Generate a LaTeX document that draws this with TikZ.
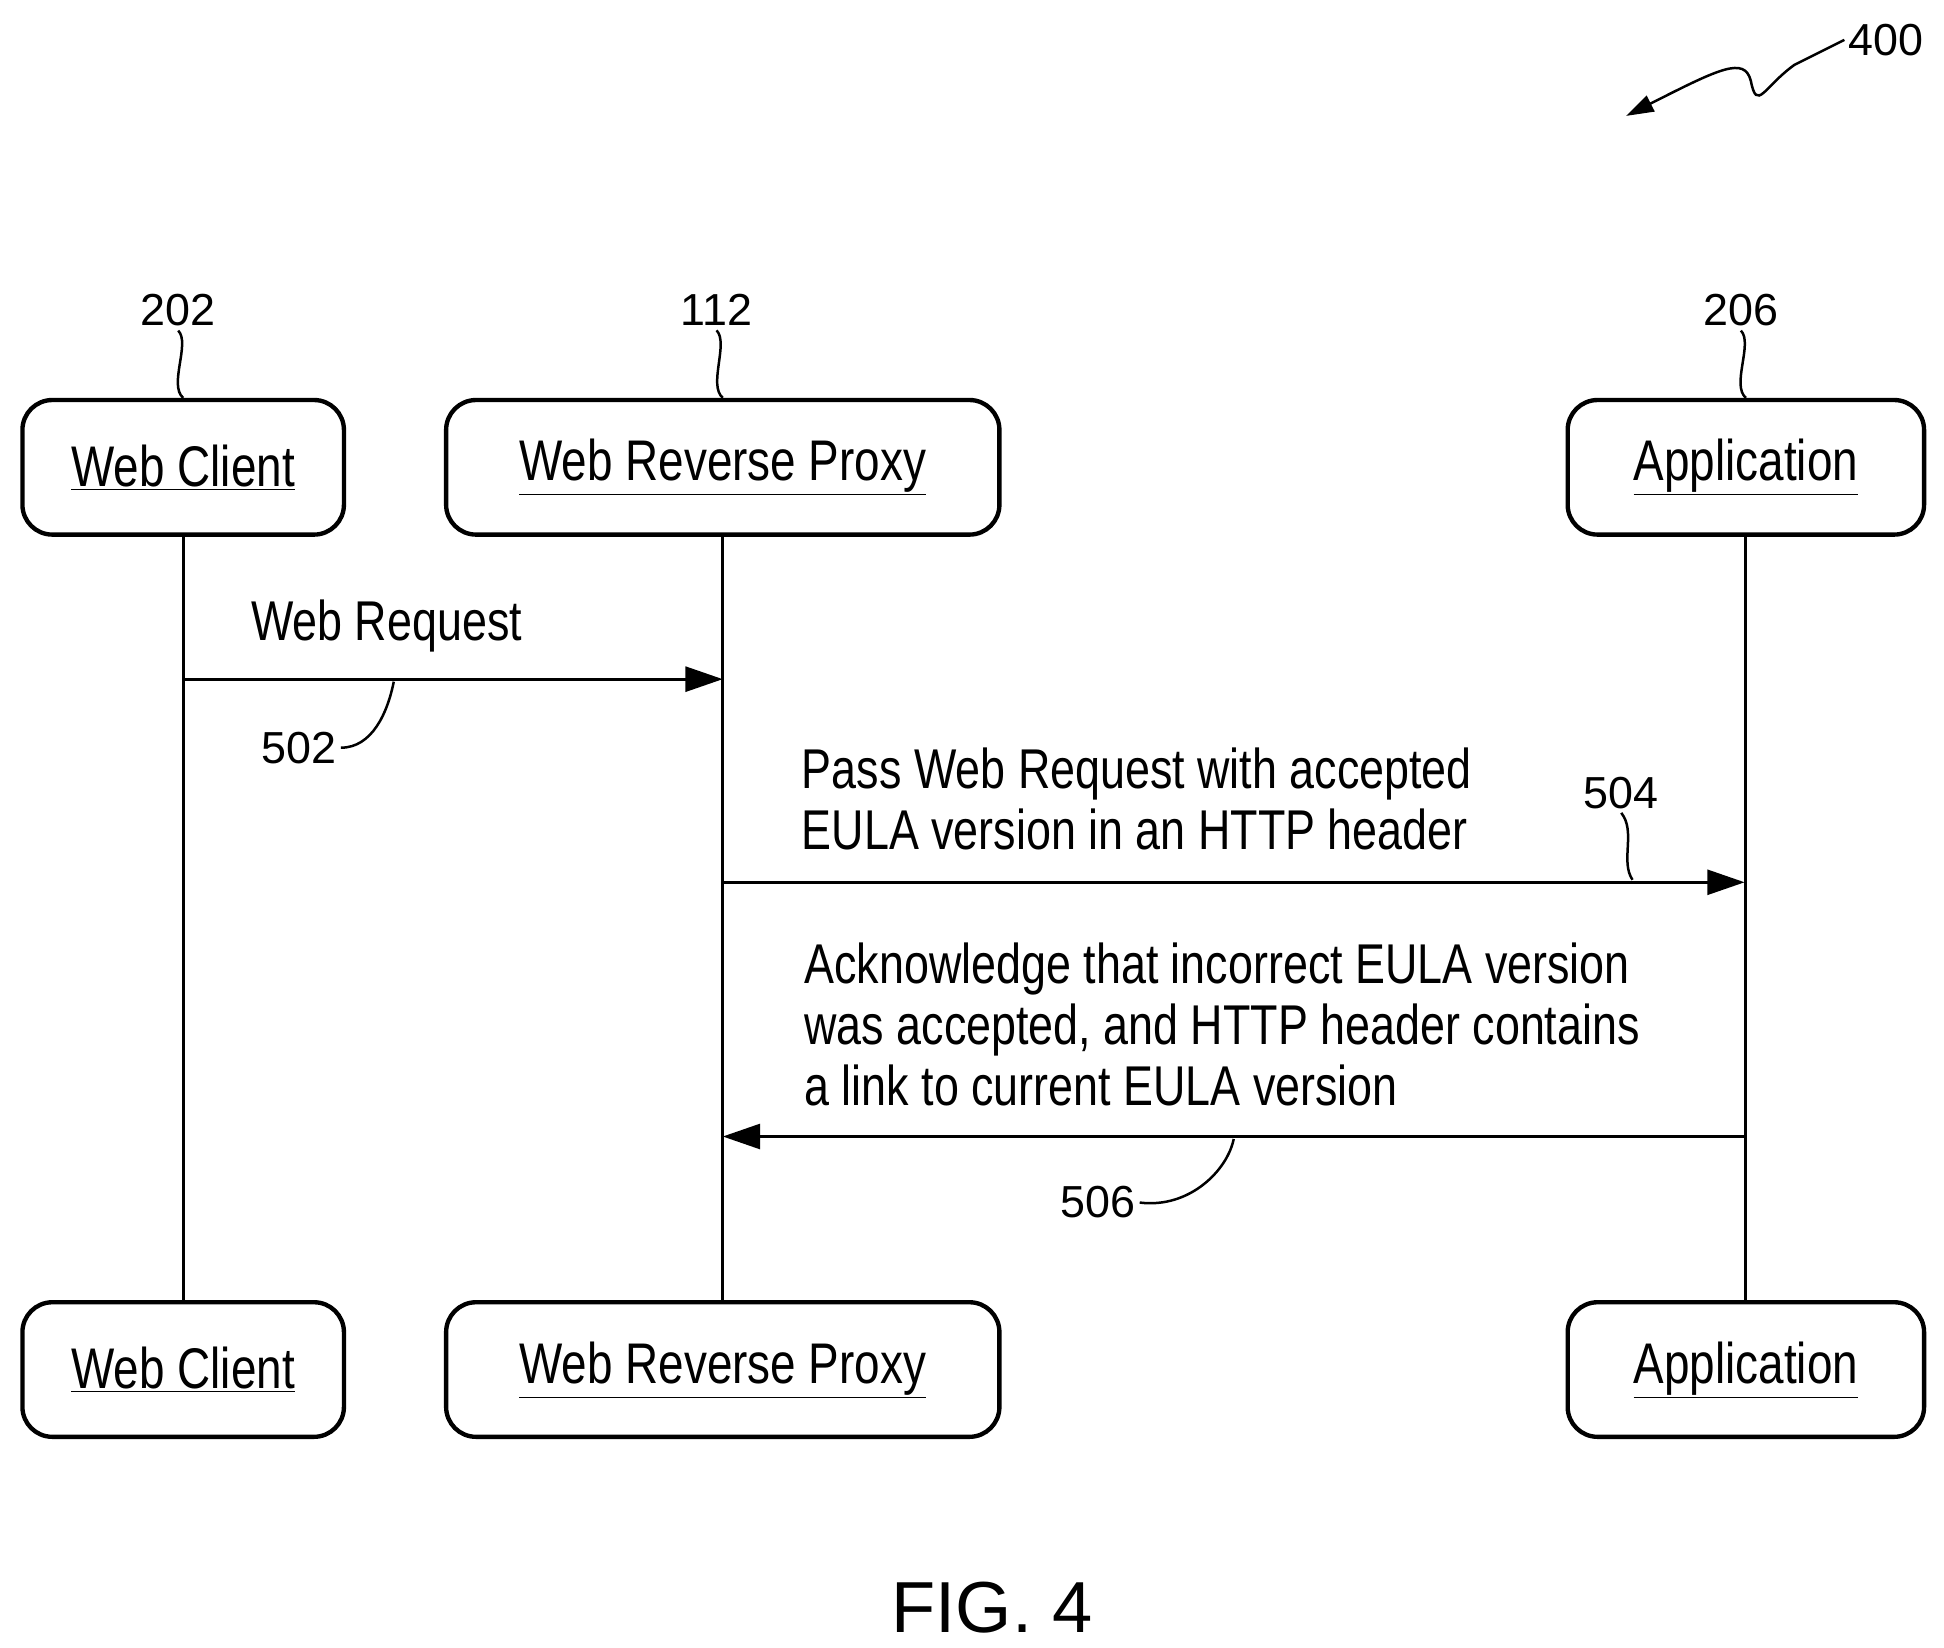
\documentclass[tikz,border=0pt]{standalone}
\usepackage{fontspec}
\setmainfont{Liberation Sans}
\newfontfamily\narrow[FakeStretch=0.8]{Liberation Sans}
\usetikzlibrary{arrows.meta}
\begin{document}
\begin{tikzpicture}[x=1pt,y=-1pt,
 box/.style={draw,line width=3.5pt,rounded corners=24pt,minimum height=108pt,font=\narrow\fontsize{46}{50}\selectfont},
 num/.style={font=\fontsize{36}{40}\selectfont},
 txt/.style={font=\narrow\fontsize{45}{49}\selectfont,align=left,anchor=west},
 line/.style={line width=2.5pt},
 arr/.style={line width=2.5pt,-{Triangle[length=30pt,width=20pt]}},
 sq/.style={line width=2pt}]
\useasboundingbox (0,0) rectangle (1560,1322);
\foreach \r/\y in {t/375,b/1099}{
 \node[box,minimum width=258pt] (wc\r) at (147,\y) {\underline{Web Client}};
 \node[box,minimum width=444pt] (wp\r) at (580,\y) {\underline{Web Reverse Proxy}};
 \node[box,minimum width=286pt] (ap\r) at (1401,\y) {\underline{Application}};
}
\draw[line] (wct) -- (wcb);
\draw[line] (wpt) -- (wpb);
\draw[line] (apt) -- (apb);
\node[num] (n202) at (143,249) {202};
\node[num] (n112) at (575,249) {112};
\node[num] (n206) at (1397,249) {206};
\foreach \n/\b in {n202/wct,n112/wpt,n206/apt}
 \draw[sq] (\n.south) .. controls +(10,10) and +(-12,-10) .. (\b.north);
\coordinate (a1s) at (147,545); \coordinate (a1e) at (580,545);
\draw[arr] (a1s) -- (a1e);
\node[txt] (t1) at (198,502) {Web Request};
\node[num] (n502) at (240,600) {502};
\draw[sq] (n502.east) .. controls +(25,0) and +(-5,25) .. (316,547);
\coordinate (a2s) at (580,708); \coordinate (a2e) at (1400,708);
\draw[arr] (a2s) -- (a2e);
\node[txt] (t2) at (640,641) {Pass Web Request with accepted\\EULA version in an HTTP header};
\node[num] (n504) at (1301,636) {504};
\draw[sq] (n504.south) .. controls +(12,15) and +(-10,-15) .. (1310,706);
\coordinate (a3s) at (1400,912); \coordinate (a3e) at (580,912);
\draw[arr] (a3s) -- (a3e);
\node[txt] (t3) at (642,822) {Acknowledge that incorrect EULA version\\was accepted, and HTTP header contains\\a link to current EULA version};
\node[num] (n506) at (881,965) {506};
\draw[sq] (n506.east) .. controls +(40,5) and +(-5,25) .. (990,914);
\node[num,anchor=west] (n400) at (1480,32) {400};
\draw[sq,-{Triangle[length=22pt,width=14pt]}] (n400.west) -- (1440,52) .. controls (1415,70) and (1410,90) .. (1405,65) .. controls (1400,45) and (1380,55) .. (1305,93);
\node[font=\fontsize{58}{62}\selectfont] (fig) at (796,1290) {FIG. 4};
\end{tikzpicture}
\end{document}
